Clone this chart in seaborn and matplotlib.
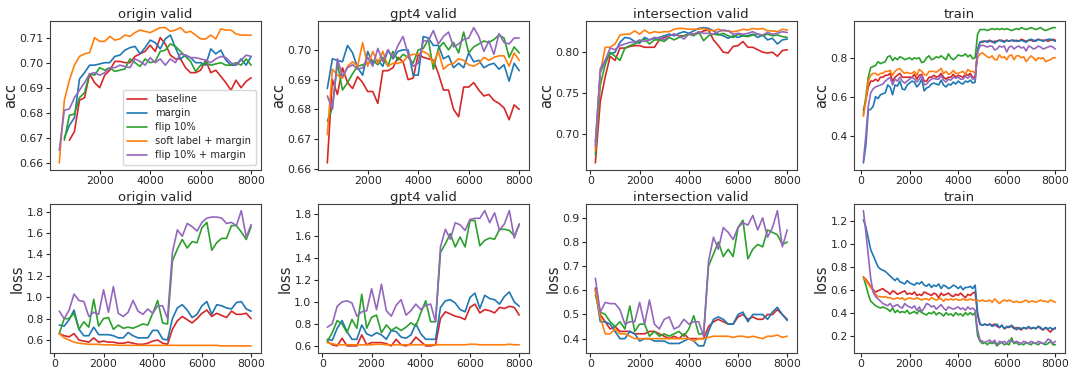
import numpy as np
import pandas as pd
import matplotlib
matplotlib.use("Agg")
import matplotlib.pyplot as plt
import seaborn as sns

nan = np.nan

methods = ["baseline", "margin", "flip 10%", "soft label + margin", "flip 10% + margin"]
colors = ["#d62728", "#1f77b4", "#2ca02c", "#ff7f0e", "#9467bd"]

# eval every 200 steps, train logged every 100 steps
val_steps = list(range(200, 8001, 200))
train_steps = list(range(100, 8001, 100))

# y tick labels as in the original figure
origin_acc_ticks = [0.66, 0.67, 0.68, 0.69, 0.70, 0.71]
gpt4_acc_ticks = [0.66, 0.67, 0.68, 0.69, 0.70]
inter_acc_ticks = [0.70, 0.75, 0.80]
train_acc_ticks = [0.4, 0.6, 0.8]
valid_loss_ticks = [0.6, 0.8, 1.0, 1.2, 1.4, 1.6, 1.8]
inter_loss_ticks = [0.4, 0.5, 0.6, 0.7, 0.8, 0.9]
train_loss_ticks = [0.2, 0.4, 0.6, 0.8, 1.0, 1.2]

# ---- origin valid ----
origin_acc = {
    "baseline": [nan, nan, nan, .669, .6725, .685, .686, .6955, .692, .690,
                 .695, .697, .7005, .7005, .700, .700, .7025, .7035, .7045, .707,
                 .7045, .710, .7075, .703, .7015, .7015, .698, .696, .696, .697,
                 .701, .696, .697, .6945, .692, .689, .693, .690, .6925, .694],
    "margin": [nan, nan, .670, .675, .678, .6935, .696, .699, .699, .6995,
               .700, .700, .7025, .703, .705, .706, .7065, .7035, .706, .709,
               .708, .7055, .7095, .711, .706, .7015, .703, .702, .700, .700,
               .699, .7055, .7035, .705, .701, .699, .699, .7015, .699, .7025],
    "flip 10%": [nan, nan, .669, .679, .6795, .686, .688, .6955, .695, .698,
                 .697, .698, .6965, .697, .6975, .7015, .700, .6985, .7015, .700,
                 .7005, .7045, .705, .7075, .7065, .7045, .7025, .7005, .6965, .699,
                 .700, .699, .6995, .700, .699, .699, .700, .699, .7015, .699],
    "soft label + margin": [nan, .660, .685, .693, .699, .7025, .7035, .704, .710, .7085,
                            .7085, .7105, .709, .7095, .711, .7105, .712, .713, .7125, .712,
                            .713, .714, .714, .7125, .713, .714, .712, .7125, .711, .7095,
                            .7095, .711, .7095, .7135, .713, .713, .7115, .711, .711, .711],
    "flip 10% + margin": [nan, .665, .681, .6815, .686, .689, .692, .6955, .696, .695,
                          .696, .698, .698, .699, .6985, .698, .7015, .7005, .699, .702,
                          .700, .7015, .699, .7015, .700, .7035, .703, .702, .702, .7015,
                          .701, .700, .7015, .7025, .702, .700, .699, .701, .703, .7025],
}
origin_loss = {
    "baseline": [.66, .64, .63, .66, .60, .59, .58, .62, .58, .59,
                 .58, .58, .57, .57, .58, .57, .56, .56, .57, .59,
                 .60, .57, .56, .70, .78, .82, .79, .76, .80, .85,
                 .88, .82, .85, .83, .81, .87, .84, .84, .85, .80],
    "margin": [.74, .73, .79, .88, .70, .64, .64, .72, .65, .65,
               .65, .64, .62, .62, .67, .64, .62, .62, .62, .69,
               .69, .61, .60, .80, .90, .93, .88, .81, .84, .92,
               .96, .84, .93, .92, .90, .89, .95, .96, .89, .87],
    "flip 10%": [.66, .80, .80, .85, .70, .77, .72, .98, .73, .80,
                 .81, .70, .74, .71, .72, .71, .73, .75, .74, .85,
                 .97, .76, .75, 1.34, 1.45, 1.54, 1.46, 1.52, 1.51, 1.65,
                 1.70, 1.44, 1.51, 1.55, 1.55, 1.67, 1.67, 1.61, 1.54, 1.66],
    "soft label + margin": [.66, .62, .60, .58, .57, .565, .56, .56, .56, .555,
                            .555, .555, .55, .55, .55, .55, .55, .55, .55, .55,
                            .55, .55, .55, .55, .55, .55, .55, .55, .55, .55,
                            .55, .55, .55, .545, .545, .545, .545, .545, .545, .545],
    "flip 10% + margin": [.87, .80, .88, 1.03, .97, .96, .82, .86, .84, 1.07,
                          .86, 1.10, .85, .82, .86, .97, .87, .84, .89, .85,
                          .92, .92, .80, 1.42, 1.63, 1.57, 1.69, 1.66, 1.62, 1.70,
                          1.74, 1.75, 1.75, 1.74, 1.69, 1.70, 1.67, 1.81, 1.56, 1.68],
}

# ---- gpt4 valid ----
gpt4_acc = {
    "baseline": [nan, .662, .690, .685, .694, .689, .687, .691, .689, .686,
                 .686, .682, .693, .693, .694, .6975, .696, .690, .6905, .6985,
                 .6975, .697, .6965, .692, .6865, .6865, .680, .6775, .6875, .6875,
                 .689, .6865, .6845, .685, .683, .682, .6805, .6765, .6815, .680],
    "margin": [nan, .687, .697, .6965, .696, .7015, .699, .694, .6915, .6995,
               .6955, .6965, .6945, .700, .697, .6995, .700, .700, .6915, .6915,
               .7045, .704, .7015, .7015, .697, .698, .694, .6955, .694, .699,
               .696, .6965, .694, .695, .6955, .6935, .695, .6895, .6955, .693],
    "flip 10%": [nan, .676, .6805, .6955, .6865, .689, .692, .6945, .695, .6955,
                 .6965, .695, .6975, .6945, .6995, .6965, .6985, .6975, .6955, .700,
                 .7005, .7035, .6935, .7005, .7025, .700, .7025, .699, .706, .699,
                 .701, .702, .703, .7025, .7035, .705, .704, .6975, .701, .699],
    "soft label + margin": [nan, .6715, .6935, .6915, .6905, .6945, .696, .6945, .7025, .6945,
                            .6995, .6955, .6995, .6945, .6955, .6955, .696, .698, .6985, .6985,
                            .6995, .6985, .6955, .6995, .6935, .695, .6955, .697, .6965, .695,
                            .6945, .6955, .6975, .6965, .6975, .698, .698, .6945, .699, .6965],
    "flip 10% + margin": [nan, .6845, .680, .697, .691, .694, .695, .6935, .694, .6975,
                          .6945, .7005, .696, .700, .6975, .7015, .7045, .6985, .6945, .6955,
                          .703, .703, .7065, .702, .7045, .706, .701, .702, .7035, .704,
                          .7075, .7045, .6995, .703, .6985, .7055, .7025, .702, .704, .704],
}
gpt4_loss = {
    "baseline": [.64, .61, .60, .67, .60, .60, .60, .70, .61, .63,
                 .63, .63, .62, .60, .66, .61, .60, .62, .68, .64,
                 .60, .60, .61, .85, .91, .89, .87, .86, .84, .95,
                 .98, .90, .93, .92, .90, .95, .94, .96, .95, .88],
    "margin": [.66, .65, .76, .83, .73, .66, .66, .79, .71, .69,
               .72, .70, .66, .74, .73, .68, .67, .70, .80, .71,
               .66, .66, .66, .95, 1.01, 1.02, .99, .93, .91, 1.04,
               1.08, .94, 1.06, 1.03, 1.02, .98, 1.05, 1.09, 1.00, .96],
    "flip 10%": [.64, .72, .83, .80, .72, .84, .76, 1.07, .76, .86,
                 .88, .72, .79, .74, .77, .74, .77, .81, .78, .90,
                 1.01, .82, .82, 1.45, 1.53, 1.62, 1.50, 1.59, 1.50, 1.74,
                 1.74, 1.51, 1.56, 1.58, 1.57, 1.66, 1.66, 1.65, 1.60, 1.70],
    "soft label + margin": [.63, .62, .61, .61, .61, .61, .61, .61, .61, .61,
                            .615, .615, .61, .61, .61, .61, .61, .61, .61, .61,
                            .61, .61, .61, .61, .61, .61, .61, .61, .61, .615,
                            .615, .61, .61, .61, .61, .61, .61, .615, .61, .61],
    "flip 10% + margin": [.77, .80, .96, 1.00, 1.01, .99, .87, .91, .92, 1.12,
                          .93, 1.16, .92, .87, .97, 1.02, .88, .92, .98, .93,
                          .97, .98, .82, 1.50, 1.66, 1.57, 1.72, 1.70, 1.65, 1.75,
                          1.76, 1.76, 1.83, 1.72, 1.81, 1.65, 1.71, 1.83, 1.58, 1.71],
}

# ---- intersection valid ----
inter_acc = {
    "baseline": [.665, .740, .770, .795, .790, .805, .805, .807, .808, .808,
                 .806, .806, .806, .815, .818, .820, .822, .820, .820, .822,
                 .822, .823, .826, .827, .815, .808, .800, .799, .807, .808,
                 .813, .806, .806, .803, .800, .799, .800, .795, .802, .803],
    "margin": [.690, .775, .790, .798, .800, .812, .818, .817, .813, .811,
               .818, .815, .817, .818, .820, .822, .820, .823, .825, .823,
               .826, .829, .830, .829, .826, .822, .820, .817, .820, .818,
               .820, .820, .822, .818, .821, .815, .817, .810, .815, .816],
    "flip 10%": [.675, .760, .785, .800, .795, .790, .805, .808, .810, .813,
                 .816, .810, .815, .815, .813, .818, .815, .818, .820, .822,
                 .820, .825, .814, .820, .822, .821, .823, .820, .818, .822,
                 .820, .819, .821, .822, .820, .822, .820, .821, .819, .818],
    "soft label + margin": [.680, .775, .806, .806, .810, .821, .822, .822, .826, .822,
                            .827, .823, .825, .824, .825, .825, .828, .829, .829, .828,
                            .828, .828, .829, .827, .826, .828, .826, .826, .825, .826,
                            .828, .827, .829, .828, .829, .826, .826, .825, .828, .827],
    "flip 10% + margin": [.685, .780, .790, .805, .803, .808, .810, .812, .812, .815,
                          .813, .815, .818, .817, .815, .820, .822, .820, .816, .822,
                          .822, .825, .823, .823, .822, .825, .827, .826, .822, .823,
                          .822, .823, .825, .822, .821, .824, .822, .823, .825, .824],
}
inter_loss = {
    "baseline": [.61, .50, .47, .44, .45, .43, .43, .43, .42, .42,
                 .42, .43, .43, .42, .41, .40, .41, .40, .42, .40,
                 .40, .40, .40, .45, .47, .48, .47, .46, .46, .49,
                 .50, .48, .49, .48, .48, .50, .50, .52, .50, .48],
    "margin": [.60, .47, .47, .46, .43, .40, .40, .43, .42, .39,
               .40, .40, .39, .39, .39, .38, .38, .38, .39, .40,
               .39, .37, .37, .43, .48, .49, .48, .46, .46, .50,
               .51, .47, .50, .50, .50, .48, .51, .53, .50, .475],
    "flip 10%": [.58, .51, .50, .47, .45, .47, .44, .535, .43, .46,
                 .46, .41, .43, .41, .42, .41, .42, .43, .41, .44,
                 .495, .42, .42, .70, .75, .80, .74, .77, .74, .86,
                 .89, .73, .77, .79, .78, .85, .84, .83, .79, .80],
    "soft label + margin": [.60, .49, .42, .42, .44, .42, .42, .41, .40, .40,
                            .40, .40, .40, .40, .40, .40, .40, .40, .40, .40,
                            .39, .40, .40, .405, .41, .41, .41, .41, .405, .41,
                            .41, .405, .41, .405, .40, .41, .41, .415, .405, .41],
    "flip 10% + margin": [.65, .51, .55, .545, .545, .52, .46, .47, .47, .55,
                          .46, .56, .46, .44, .48, .49, .44, .45, .48, .46,
                          .47, .47, .41, .72, .82, .77, .86, .84, .81, .86,
                          .88, .87, .91, .85, .90, .82, .86, .93, .78, .85],
}

# ---- train ----
train_acc = {
    "baseline": [.53, .58, .65, .68, .68, .69, .68, .70, .70, .71,
                 .71, .72, .68, .70, .71, .72, .70, .70, .70, .70,
                 .70, .715, .69, .71, .715, .68, .68, .70, .70, .71,
                 .70, .705, .72, .70, .69, .70, .70, .715, .70, .71,
                 .705, .70, .715, .71, .72, .70, .70, .84, .88, .88,
                 .885, .885, .89, .88, .885, .885, .89, .89, .885, .89,
                 .885, .89, .885, .89, .885, .895, .89, .885, .89, .89,
                 .885, .89, .895, .89, .89, .89, .885, .89, .895, .89],
    "margin": [.26, .35, .53, .535, .55, .60, .59, .61, .615, .62,
               .66, .65, .61, .66, .655, .68, .64, .635, .66, .67,
               .68, .675, .65, .665, .69, .63, .645, .65, .665, .67,
               .665, .66, .685, .66, .65, .665, .66, .675, .665, .68,
               .67, .665, .68, .675, .685, .67, .675, .84, .88, .885,
               .885, .88, .885, .885, .875, .885, .89, .885, .88, .89,
               .885, .89, .89, .885, .885, .89, .885, .88, .89, .895,
               .89, .885, .895, .89, .885, .89, .895, .895, .89, .885],
    "flip 10%": [.51, .60, .70, .75, .755, .76, .78, .77, .775, .78,
                 .805, .81, .785, .80, .79, .805, .80, .79, .795, .80,
                 .79, .80, .795, .80, .775, .78, .80, .81, .79, .795,
                 .805, .80, .81, .80, .79, .82, .80, .79, .80, .815,
                 .81, .81, .82, .805, .815, .795, .80, .92, .945, .945,
                 .945, .94, .945, .95, .945, .95, .945, .95, .945, .95,
                 .945, .94, .945, .95, .945, .955, .95, .945, .95, .955,
                 .95, .945, .95, .955, .945, .94, .945, .95, .955, .955],
    "soft label + margin": [.50, .58, .68, .71, .72, .72, .71, .72, .72, .73,
                            .73, .735, .71, .73, .74, .745, .73, .72, .725, .72,
                            .72, .73, .71, .74, .73, .715, .71, .73, .73, .73,
                            .725, .735, .745, .72, .73, .715, .72, .735, .72, .72,
                            .725, .73, .715, .74, .73, .73, .72, .80, .82, .825,
                            .815, .805, .80, .81, .79, .79, .815, .80, .805, .79,
                            .81, .815, .79, .81, .81, .80, .805, .78, .795, .81,
                            .80, .785, .80, .795, .80, .78, .785, .79, .80, .80],
    "flip 10% + margin": [.27, .40, .55, .62, .64, .65, .655, .66, .665, .68,
                          .69, .70, .66, .69, .68, .70, .68, .67, .68, .69,
                          .70, .69, .675, .69, .71, .66, .665, .68, .69, .695,
                          .69, .69, .71, .685, .675, .69, .685, .70, .695, .70,
                          .69, .69, .705, .695, .71, .69, .69, .83, .86, .865,
                          .86, .855, .86, .86, .84, .845, .86, .855, .86, .83,
                          .855, .86, .845, .855, .86, .85, .855, .835, .86, .855,
                          .845, .85, .86, .855, .845, .85, .855, .86, .855, .845],
}
train_loss = {
    "baseline": [.71, .69, .66, .63, .60, .58, .59, .60, .61, .59,
                 .58, .56, .59, .58, .56, .57, .58, .59, .56, .57,
                 .56, .58, .55, .56, .55, .58, .57, .56, .55, .57,
                 .56, .53, .57, .55, .56, .57, .55, .54, .56, .55,
                 .57, .55, .53, .56, .55, .57, .58, .38, .30, .29,
                 .30, .29, .30, .29, .30, .28, .27, .29, .26, .27,
                 .28, .28, .26, .27, .26, .25, .27, .26, .27, .26,
                 .27, .26, .28, .26, .25, .27, .25, .23, .26, .26],
    "margin": [1.21, 1.15, 1.05, .95, .90, .85, .80, .78, .77, .76,
               .74, .72, .70, .68, .70, .67, .66, .65, .68, .66,
               .65, .64, .66, .65, .67, .64, .63, .65, .62, .64,
               .63, .65, .61, .64, .63, .61, .62, .64, .63, .61,
               .63, .60, .62, .62, .63, .61, .64, .40, .30, .29,
               .30, .29, .30, .28, .29, .30, .27, .29, .26, .28,
               .27, .29, .27, .25, .27, .26, .27, .26, .28, .26,
               .27, .26, .28, .27, .25, .27, .26, .27, .25, .27],
    "flip 10%": [.71, .64, .56, .50, .48, .46, .45, .44, .45, .44,
                 .43, .41, .44, .40, .42, .40, .41, .40, .42, .39,
                 .40, .41, .39, .42, .40, .39, .38, .40, .39, .41,
                 .38, .40, .39, .37, .40, .38, .39, .37, .40, .38,
                 .39, .37, .40, .38, .40, .38, .40, .20, .15, .13,
                 .14, .12, .14, .13, .14, .11, .13, .14, .12, .13,
                 .12, .18, .13, .14, .12, .13, .12, .14, .13, .12,
                 .14, .13, .12, .14, .13, .12, .13, .15, .12, .12],
    "soft label + margin": [.71, .68, .65, .62, .59, .56, .54, .54, .535, .54,
                            .53, .53, .52, .52, .53, .52, .53, .51, .52, .53,
                            .52, .52, .53, .52, .51, .52, .52, .51, .53, .52,
                            .51, .52, .52, .50, .52, .51, .52, .51, .52, .51,
                            .51, .52, .51, .51, .52, .51, .51, .51, .50, .51,
                            .50, .50, .51, .49, .52, .50, .48, .50, .51, .50,
                            .51, .50, .49, .50, .49, .49, .50, .51, .49, .50,
                            .50, .49, .50, .51, .50, .50, .49, .51, .50, .49],
    "flip 10% + margin": [1.29, 1.10, .90, .70, .58, .54, .52, .50, .48, .47,
                          .46, .48, .45, .46, .47, .45, .44, .48, .46, .45,
                          .44, .46, .42, .45, .41, .44, .48, .47, .45, .46,
                          .43, .45, .47, .44, .42, .45, .44, .43, .44, .45,
                          .43, .44, .42, .45, .43, .44, .42, .25, .16, .15,
                          .14, .15, .16, .14, .16, .12, .15, .14, .15, .13,
                          .16, .15, .14, .15, .14, .13, .15, .14, .13, .15,
                          .14, .13, .15, .14, .13, .14, .17, .16, .13, .15],
}


def to_long(curves, steps):
    rows = []
    for m in methods:
        vals = curves[m]
        if len(vals) != len(steps):
            raise ValueError(f"{m}: {len(vals)} values vs {len(steps)} steps")
        for s, v in zip(steps, vals):
            rows.append({"step": s, "value": v, "method": m})
    return pd.DataFrame(rows).dropna()


sns.set_style("ticks")
plt.rcParams["font.family"] = ["DejaVu Sans"]

panels = [
    ("origin valid", origin_acc, origin_loss, val_steps, origin_acc_ticks, valid_loss_ticks),
    ("gpt4 valid", gpt4_acc, gpt4_loss, val_steps, gpt4_acc_ticks, valid_loss_ticks),
    ("intersection valid", inter_acc, inter_loss, val_steps, inter_acc_ticks, inter_loss_ticks),
    ("train", train_acc, train_loss, train_steps, train_acc_ticks, train_loss_ticks),
]
palette = dict(zip(methods, colors))

fig, axes = plt.subplots(2, 4, figsize=(10.8, 3.72), dpi=100)
fig.subplots_adjust(left=0.046, right=0.986, top=0.944, bottom=0.052, wspace=0.27, hspace=0.23)

for j, (title, acc, loss, steps, acc_ticks, loss_ticks) in enumerate(panels):
    for i, (curves, ylab, yt) in enumerate([(acc, "acc", acc_ticks), (loss, "loss", loss_ticks)]):
        ax = axes[i, j]
        df = to_long(curves, steps)
        sns.lineplot(data=df, x="step", y="value", hue="method", hue_order=methods,
                     palette=palette, linewidth=1.2, ax=ax,
                     legend=(i == 0 and j == 0))
        ax.set_title(title, fontsize=9.5, pad=2)
        ax.set_xlabel("")
        ax.set_ylabel(ylab, fontsize=10.5, labelpad=1)
        ax.set_yticks(yt)
        ax.set_yticklabels([f"{t:.2f}" if i == 0 and j < 3 else f"{t:.1f}" for t in yt])
        ax.tick_params(labelsize=7.8, pad=1.5, length=3)
        ax.set_xticks([t for t in [0, 2000, 4000, 6000, 8000] if t >= ax.get_xlim()[0]])
        for sp in ax.spines.values():
            sp.set_color("0.25")

leg = axes[0, 0].legend(loc="lower right", fontsize=7.2, title=None, frameon=True,
                        borderpad=0.45, labelspacing=0.4, handlelength=2)
leg.get_frame().set_edgecolor("0.8")

fig.savefig("out.png", dpi=100)
